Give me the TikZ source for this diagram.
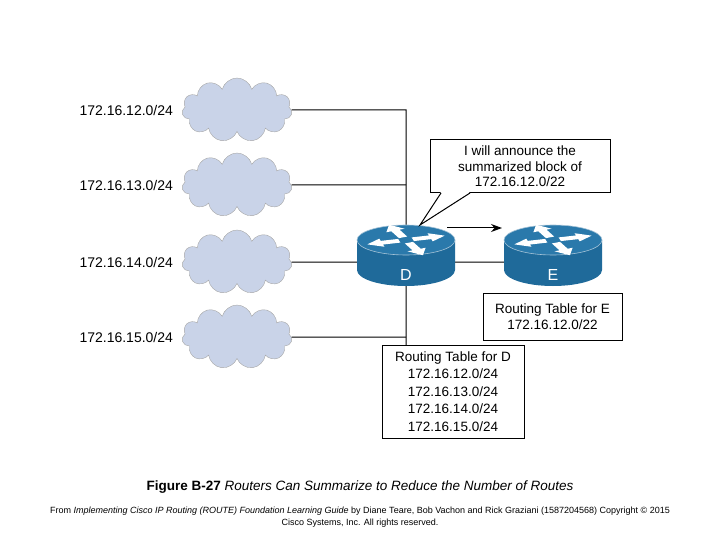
\documentclass[tikz,border=0pt]{standalone}
\usepackage{fontspec}
\setmainfont{Liberation Sans}
\usetikzlibrary{shapes.symbols,arrows.meta}
\definecolor{rb}{HTML}{1F6A9A}
\definecolor{rt}{HTML}{2A79AB}
\definecolor{cl}{HTML}{C9D3E8}
\begin{document}
\begin{tikzpicture}[x=1pt,y=-1pt,
  net/.style={font=\fontsize{14}{15}\selectfont,anchor=west},
  cloudn/.style={cloud,cloud puffs=11,aspect=2,fill=cl,draw=gray!70,minimum width=110,minimum height=64,inner sep=0},
  box/.style={draw,line width=1pt,fill=white,align=center,font=\fontsize{13.5}{15.5}\selectfont},
  wire/.style={line width=1pt}]
\useasboundingbox (0,0) rectangle (720,540);
\foreach \i/\y/\t in {1/110/{172.16.12.0/24},2/185/{172.16.13.0/24},3/262/{172.16.14.0/24},4/337/{172.16.15.0/24}}{
  \node[net] (l\i) at (76,\y) {\t};
  \node[cloudn] (c\i) at (237,\y) {};
}
\coordinate (j1) at (406,110);
\coordinate (j2) at (406,185);
\coordinate (j4) at (406,337);
\draw[wire] (c1.east) -- (j1) -- (406,345);
\draw[wire] (c2.east) -- (j2);
\draw[wire] (c4.east) -- (j4);
\draw[wire] (c3.east) -- (553,262);
\foreach \n/\x/\l in {D/406/D,E/553/E}{
  \begin{scope}[shift={(\x,240)}]
  \fill[rb] (-49,0) -- (-49,30) arc[start angle=180,end angle=0,x radius=49,y radius=16] -- (49,0) -- cycle;
  \fill[rt,draw=white!60!rb,line width=0.6pt] (0,0) ellipse[x radius=49,y radius=15];
  \begin{scope}[yscale=0.42]
  \foreach \a in {15,195,115,295}{
    \begin{scope}[rotate=\a]
    \fill[white] (7,-4.5) -- (25,-4.5) -- (25,-10) -- (40,0) -- (25,10) -- (25,4.5) -- (7,4.5) -- cycle;
    \end{scope}}
  \end{scope}
  \node[white,font=\fontsize{16}{16}\selectfont] (\n) at (0,35) {\l};
  \end{scope}
}
\coordinate (Dtop) at (420,225);
\coordinate (Ein) at (502,228);
\coordinate (Dout) at (447,228);
\draw[wire,-{Stealth[length=11pt,width=8pt]}] (Dout) -- (Ein);
\node[box,minimum width=180,minimum height=53,inner sep=2pt] (call) at (520,166.5) {I will announce the\\summarized block of\\172.16.12.0/22};
\fill[white] (441,192) -- (470,192) -- (Dtop) -- cycle;
\draw[line width=1pt] (441,193) -- (Dtop) -- (470,193);
\node[box,minimum width=139,minimum height=47,inner sep=2pt] (tE) at (552.5,316.5) {Routing Table for E\\172.16.12.0/22};
\node[box,minimum width=142,minimum height=93,inner sep=2pt,font=\fontsize{13.5}{17.5}\selectfont] (tD) at (453,391.5) {Routing Table for D\\172.16.12.0/24\\172.16.13.0/24\\172.16.14.0/24\\172.16.15.0/24};
\node[font=\fontsize{13.5}{15}\selectfont] (cap) at (360,487) {\textbf{Figure B-27} \textit{Routers Can Summarize to Reduce the Number of Routes}};
\node[font=\fontsize{9}{12.5}\selectfont,align=center] (src) at (360,517) {From \textit{Implementing Cisco IP Routing (ROUTE) Foundation Learning Guide} by Diane Teare, Bob Vachon and Rick Graziani (1587204568) Copyright © 2015\\Cisco Systems, Inc. All rights reserved.};
\end{tikzpicture}
\end{document}
